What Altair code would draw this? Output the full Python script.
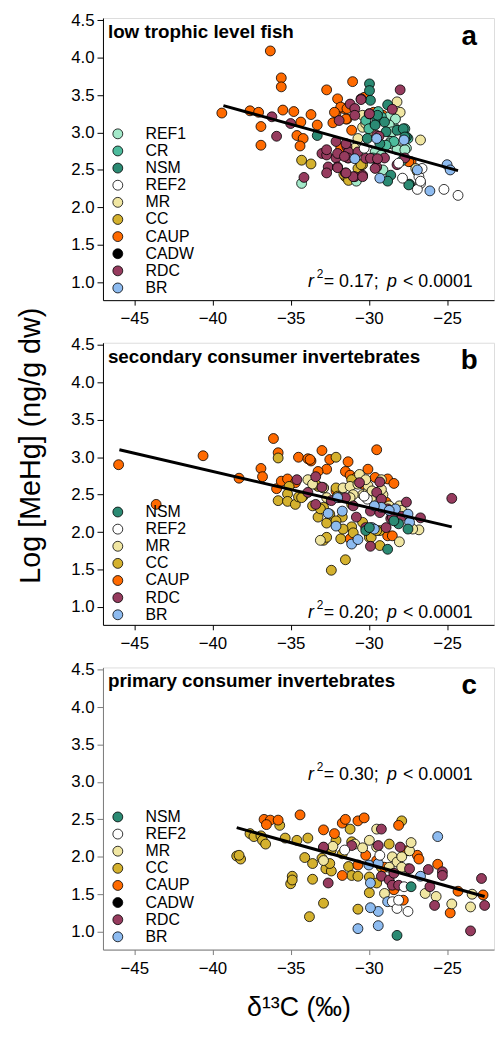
import altair as alt
import pandas as pd

FONT = "Liberation Sans"

GROUPS = ["REF1", "CR", "NSM", "REF2", "MR", "CC", "CAUP", "CADW", "RDC", "BR"]
COLORS = ["#a3e9c9", "#4dbb9c", "#2b8a73", "#ffffff", "#f0e6a2",
          "#d4b12e", "#ff6a00", "#000000", "#963b5e", "#8dbbf0"]

X_TICKS = [-45, -40, -35, -30, -25]
Y_TICKS = [1.0, 1.5, 2.0, 2.5, 3.0, 3.5, 4.0, 4.5]

# ---------------- panel a : low trophic level fish ----------------
a_caup_x = [-39.4, -36.3, -35.6, -35.6, -37.6, -37.05, -36.9, -36.9, -35.5, -34.8, -33.7, -34.35,
            -34.6, -34.2, -34.4, -33.3, -32.7, -32.0, -31.04, -32.1, -32.3, -31.6, -31.4, -31.1,
            -31.8, -30.3, -29.7, -29.1, -27.3, -31.8, -32.2, -31.46, -31.4, -27.45]
a_caup_y = [3.26, 4.09, 3.73, 3.61, 3.29, 3.27, 3.08, 2.83, 3.30, 3.28, 3.24, 3.14,
            2.96, 2.92, 2.82, 3.10, 3.57, 3.45, 3.68, 3.26, 3.13, 3.32, 3.18, 3.03,
            2.79, 3.47, 3.27, 3.23, 2.61, 3.34, 3.27, 3.18, 3.32, 2.61]
a_cc_x = [-34.3, -33.7, -31.5, -30.7, -30.4, -31.1, -26.9, -31.6, -30.5, -31.3]
a_cc_y = [2.63, 2.58, 2.41, 2.52, 2.57, 2.68, 2.48, 2.44, 2.57, 2.36]
a_mr_x = [-28.2, -28.0, -26.7, -30.4, -30.4, -30.7, -30.9, -27.0, -30.2, -29.8]
a_mr_y = [3.41, 3.27, 2.90, 3.23, 3.07, 2.92, 2.79, 2.52, 3.12, 2.98]
a_ref1_x = [-34.3, -30.8, -29.2, -29.1, -28.6, -28.3, -28.7, -27.6, -28.2, -29.6, -28.7, -28.7,
            -28.3, -28.7, -28.5, -28.7, -28.2, -27.7, -29.2]
a_ref1_y = [2.32, 2.35, 2.70, 2.50, 2.88, 3.05, 3.18, 2.79, 2.79, 2.74, 3.01, 3.21,
            3.18, 3.10, 3.01, 2.85, 2.77, 2.77, 2.70]
a_cr_x = [-29.2, -30.2, -28.4, -27.5, -27.7, -28.9, -29.75, -30.0, -29.4, -27.9]
a_cr_y = [3.21, 3.16, 2.88, 2.92, 3.05, 2.83, 2.66, 3.05, 3.28, 2.62]
a_nsm_x = [-29.96, -29.96, -29.9, -28.8, -33.3, -30.1, -29.5, -28.6, -28.8, -27.4, -27.6, -28.2,
           -29.3, -29.98, -29.45, -29.0, -29.6, -28.9, -27.8, -27.7, -27.45]
a_nsm_y = [3.65, 3.56, 3.43, 3.37, 2.96, 2.92, 3.18, 2.43, 2.35, 2.31, 2.94, 3.03,
           2.85, 3.25, 3.23, 3.14, 3.10, 3.01, 3.05, 2.94, 2.30]
a_rdc_x = [-36.2, -35.9, -35.0, -34.15, -33.0, -32.7, -32.6, -32.7, -32.1, -32.0, -31.4, -31.5,
           -31.3, -31.3, -30.9, -30.4, -29.5, -29.96, -30.5, -28.0, -28.5, -29.5, -29.0, -28.2,
           -27.7, -30.5, -31.2, -31.9, -30.9, -30.9, -32.1, -31.46, -31.35, -32.7, -32.0, -30.7,
           -30.2, -29.9, -29.6, -29.45, -29.35, -31.0, -30.4, -31.56, -32.0, -31.46]
a_rdc_y = [3.21, 2.95, 3.12, 2.40, 2.72, 2.70, 2.54, 2.46, 2.66, 2.54, 2.81, 2.46,
           2.66, 2.74, 2.41, 2.43, 2.96, 3.25, 3.45, 3.57, 3.31, 2.54, 2.66, 2.57,
           2.66, 3.44, 3.38, 3.16, 3.32, 3.23, 2.88, 2.85, 2.66, 2.77, 2.72, 2.74,
           2.655, 2.655, 2.52, 2.65, 2.95, 2.41, 2.41, 2.68, 2.53, 2.46]
a_ref2_x = [-30.3, -28.1, -27.85, -26.8, -26.7, -26.9, -25.2, -24.3, -26.6, -26.7]
a_ref2_y = [2.79, 2.59, 2.39, 2.41, 2.32, 2.24, 2.24, 2.16, 2.52, 2.35]
a_br_x = [-25.0, -24.8, -26.1, -29.3, -30.9, -27.75, -29.5, -26.9]
a_br_y = [2.57, 2.50, 2.22, 2.39, 2.65, 2.90, 2.92, 2.50]
a_line_x = [-39.3, -24.3]
a_line_y = [3.36, 2.49]

# ---------------- panel b : secondary consumer invertebrates ----------------
b_caup_x = [-46.0, -43.6, -40.6, -38.3, -36.9, -36.8, -36.1, -35.8, -35.9, -35.6, -35.2, -34.7,
            -34.5, -33.9, -33.7, -33.0, -29.5, -33.76, -32.5, -31.33, -32.7, -31.5, -31.2, -30.8,
            -30.06, -29.6, -28.8, -28.4, -29.3, -28.9, -28.8, -28.5, -31.2, -32.1, -30.4, -33.25]
b_caup_y = [2.90, 2.37, 3.02, 2.72, 2.85, 2.74, 3.25, 3.06, 2.58, 2.68, 2.71, 2.66,
            3.00, 2.98, 2.95, 3.09, 3.10, 2.97, 2.97, 2.94, 2.84, 2.81, 2.76, 2.73,
            2.84, 2.73, 2.71, 2.65, 2.55, 2.40, 1.95, 1.95, 1.91, 2.55, 2.64, 2.81]
b_cc_x = [-35.8, -35.1, -35.2, -35.8, -35.2, -34.7, -34.5, -34.2, -33.6, -33.25, -32.1, -31.1,
          -32.9, -32.9, -32.7, -31.7, -31.8, -31.1, -31.0, -31.5, -32.4, -32.1, -31.1, -30.4,
          -29.97, -29.3, -29.3, -32.0, -33.6, -33.25, -32.7, -34.3, -33.4, -32.9, -33.1, -32.5,
          -32.1, -31.65, -29.85, -29.5]
b_cc_y = [2.99, 2.61, 2.51, 2.42, 2.41, 2.37, 2.47, 2.48, 2.68, 2.61, 3.00, 2.70,
          2.33, 1.89, 1.93, 2.20, 1.91, 2.07, 1.99, 1.63, 1.49, 2.59, 2.37, 2.13,
          1.93, 1.82, 2.02, 2.48, 2.35, 2.20, 2.12, 2.46, 2.64, 2.59, 2.31, 2.24,
          2.15, 2.04, 1.93, 2.02]
b_mr_x = [-31.65, -31.2, -30.7, -30.2, -30.4, -30.06, -29.85, -31.0, -31.9, -28.05, -26.8, -28.05,
          -29.1, -30.6, -30.06, -27.2, -29.2, -30.2, -28.7, -27.9, -33.9, -33.6, -31.2, -29.8,
          -29.2, -32.9, -32.7, -33.1]
b_mr_y = [2.59, 2.61, 2.64, 2.68, 2.50, 2.53, 2.46, 2.50, 2.46, 1.87, 2.03, 2.35,
          2.50, 2.77, 2.62, 2.04, 2.70, 2.70, 2.35, 2.29, 2.70, 2.64, 2.46, 2.55,
          2.57, 2.59, 2.46, 1.89]
b_ref2_x = [-30.1, -30.3]
b_ref2_y = [2.44, 2.48]
b_rdc_x = [-34.6, -33.4, -33.0, -33.4, -33.9, -32.4, -31.5, -31.0, -30.6, -30.8, -29.9, -29.5,
           -29.3, -29.2, -29.3, -28.8, -28.6, -27.9, -27.6, -26.7, -24.7, -30.2, -29.9, -28.9,
           -28.5]
b_rdc_y = [2.70, 2.74, 2.60, 2.37, 2.53, 2.42, 2.46, 2.35, 2.66, 2.20, 2.28, 2.53,
           2.67, 2.44, 2.26, 2.31, 2.18, 2.21, 2.40, 2.19, 2.45, 2.06, 1.81, 2.06,
           2.20]
b_br_x = [-32.0, -32.6, -32.1, -31.7, -31.1, -30.7, -29.8, -29.65, -29.2, -28.3, -27.5, -27.4,
          -29.65, -28.7]
b_br_y = [2.46, 2.25, 2.08, 2.28, 1.84, 1.90, 2.06, 2.04, 2.33, 2.31, 2.24, 2.13,
          2.35, 2.29]
b_nsm_x = [-30.2, -28.8, -28.1, -27.5, -29.97, -28.4]
b_nsm_y = [2.02, 1.77, 2.11, 2.04, 2.06, 2.15]
b_line_x = [-45.95, -24.7]
b_line_y = [3.10, 2.07]

# ---------------- panel c : primary consumer invertebrates ----------------
c_cc_x = [-38.45, -38.2, -38.3, -37.6, -37.35, -36.9, -36.8, -36.6, -35.7, -35.35, -34.6, -34.9,
          -35.0, -34.9, -34.1, -33.9, -33.6, -33.6, -33.8, -32.9, -33.0, -32.75, -32.4, -32.5,
          -32.1, -31.2, -31.1, -31.3, -31.1, -30.7, -30.7, -29.97, -29.97, -29.5, -29.2, -28.7,
          -27.9, -32.4, -31.7]
c_cc_y = [2.01, 1.97, 2.02, 2.31, 2.27, 2.28, 2.22, 2.17, 2.42, 2.25, 2.22, 1.74,
          1.64, 1.69, 1.99, 2.25, 1.91, 1.70, 1.20, 1.38, 1.98, 1.84, 1.81, 1.91,
          2.22, 2.37, 2.20, 1.87, 1.75, 1.74, 1.30, 1.52, 1.73, 1.65, 1.86, 2.17,
          2.48, 2.09, 2.04]
c_caup_x = [-36.7, -36.3, -35.8, -36.55, -34.4, -32.9, -32.2, -31.7, -31.5, -30.7, -30.3, -31.7,
            -30.7, -30.2, -28.1, -26.9, -26.8, -25.6, -24.3, -24.8, -22.7, -29.0, -28.4, -29.5,
            -27.8, -27.6]
c_caup_y = [2.50, 2.49, 2.49, 2.43, 2.56, 2.36, 2.31, 2.45, 2.50, 2.48, 2.52, 1.75,
            1.89, 2.02, 2.42, 2.02, 1.97, 1.90, 1.54, 1.25, 1.49, 1.86, 1.56, 1.95,
            1.42, 2.08]
c_mr_x = [-32.9, -32.3, -30.9, -30.4, -29.97, -29.5, -28.5, -28.2, -27.9, -27.5, -27.4, -27.3,
          -27.9, -29.0, -26.4, -25.7, -24.7, -23.5, -23.4, -29.5, -28.7, -32.9]
c_mr_y = [2.12, 2.14, 2.17, 2.12, 2.22, 2.37, 2.00, 1.93, 2.00, 1.84, 2.08, 2.19,
          1.86, 1.51, 1.51, 1.47, 1.37, 1.33, 1.50, 2.13, 1.86, 1.95]
c_rdc_x = [-32.6, -32.9, -29.4, -29.2, -29.2, -28.7, -28.5, -28.1, -28.0, -28.4, -27.4, -26.2,
           -26.1, -25.8, -25.3, -25.3, -22.8, -22.6, -23.5, -31.1]
c_rdc_y = [1.65, 2.13, 2.15, 2.37, 1.74, 1.69, 1.62, 1.62, 2.13, 1.78, 1.84, 1.83,
           1.60, 1.35, 1.80, 1.75, 1.71, 1.35, 1.01, 2.15]
c_br_x = [-30.7, -29.4, -29.4, -29.9, -29.9, -30.0, -28.8, -26.7, -25.6, -29.4]
c_br_y = [1.04, 1.08, 1.27, 1.32, 1.65, 1.89, 1.40, 1.74, 2.27, 1.91]
c_ref2_x = [-31.55, -28.5, -28.2, -27.5, -27.75, -29.3, -28.1]
c_ref2_y = [2.09, 1.40, 1.31, 1.27, 1.60, 2.02, 1.42]
c_nsm_x = [-28.2, -27.3]
c_nsm_y = [0.95, 1.60]
c_line_x = [-38.45, -22.6]
c_line_y = [2.39, 1.47]

LEG_A = ["REF1", "CR", "NSM", "REF2", "MR", "CC", "CAUP", "CADW", "RDC", "BR"]
LEG_B = ["NSM", "REF2", "MR", "CC", "CAUP", "RDC", "BR"]
LEG_C = ["NSM", "REF2", "MR", "CC", "CAUP", "CADW", "RDC", "BR"]


def frame(series):
    rows = []
    for name, xs, ys in series:
        for xv, yv in zip(xs, ys):
            rows.append({"x": xv, "y": yv, "group": name})
    return pd.DataFrame(rows)


def one(text, x, y, size, weight="normal", style="normal", align="left", angle=0):
    return alt.Chart(pd.DataFrame({"t": [text]})).mark_text(
        font=FONT, fontSize=size, fontWeight=weight, fontStyle=style,
        align=align, baseline="alphabetic", color="black", angle=angle
    ).encode(x=alt.value(x), y=alt.value(y), text="t:N")


def panel(series, legend_groups, lx, ly, title, letter, r2, legend_y, stat_y, ytitle, xtitle, dom_color):
    df = frame(series)
    cols = [COLORS[GROUPS.index(g)] for g in legend_groups]
    yaxis = alt.Axis(values=Y_TICKS, format=".1f", tickSize=6, labelFontSize=17, labelFont=FONT,
                     labelPadding=3, grid=False, domainColor=dom_color, tickColor=dom_color,
                     labelColor="black", title=None)
    if xtitle:
        xaxis = alt.Axis(values=X_TICKS, tickSize=5, labelFontSize=17, labelFont=FONT, labelPadding=6,
                         grid=False, domainColor=dom_color, tickColor=dom_color, labelColor="black",
                         title="δ¹³C (‰)", titleFont=FONT, titleFontSize=27,
                         titleFontWeight="normal", titlePadding=19, titleColor="black")
    else:
        xaxis = alt.Axis(values=X_TICKS, tickSize=5, labelFontSize=17, labelFont=FONT, labelPadding=6,
                         grid=False, domainColor=dom_color, tickColor=dom_color, labelColor="black",
                         title=None)
    pts = alt.Chart(df).mark_circle(size=100, opacity=1, stroke="black", strokeWidth=0.8).encode(
        x=alt.X("x:Q", scale=alt.Scale(domain=[-47, -22], nice=False, zero=False), axis=xaxis),
        y=alt.Y("y:Q", scale=alt.Scale(domain=[0.76, 4.53], nice=False, zero=False), axis=yaxis),
        color=alt.Color("group:N", scale=alt.Scale(domain=legend_groups, range=cols),
                        legend=alt.Legend(title=None, orient="none", legendX=7, legendY=legend_y,
                                          symbolType="circle", symbolSize=100,
                                          symbolStrokeColor="black", symbolStrokeWidth=0.8,
                                          symbolOpacity=1, labelFont=FONT, labelFontSize=16,
                                          labelColor="black", labelOffset=20, rowPadding=1.3,
                                          padding=0)),
    )
    line = alt.Chart(pd.DataFrame({"x": lx, "y": ly})).mark_line(color="black", strokeWidth=3).encode(
        x="x:Q", y="y:Q")
    texts = [
        one(title, 5, 20, 19, weight="bold"),
        one(letter, 370, 27, 28, weight="bold", align="center"),
        one("r", 207, stat_y, 18, style="italic"),
        one("2", 216, stat_y - 9, 12),
        one("= " + r2 + ";", 223, stat_y, 18),
        one("p", 287, stat_y, 18, style="italic"),
        one("< 0.0001", 303, stat_y, 18),
    ]
    if ytitle:
        texts.append(one("Log [MeHg] (ng/g dw)", -64, 104, 29, align="center", angle=270))
    return alt.layer(pts, line, *texts).properties(width=395, height=285)


pa = panel([("CAUP", a_caup_x, a_caup_y), ("CC", a_cc_x, a_cc_y), ("MR", a_mr_x, a_mr_y),
            ("REF1", a_ref1_x, a_ref1_y), ("CR", a_cr_x, a_cr_y), ("NSM", a_nsm_x, a_nsm_y),
            ("RDC", a_rdc_x, a_rdc_y), ("REF2", a_ref2_x, a_ref2_y), ("BR", a_br_x, a_br_y)],
           LEG_A, a_line_x, a_line_y, "low trophic level fish", "a", "0.17", 109, 272,
           False, False, "black")
pb = panel([("CAUP", b_caup_x, b_caup_y), ("CC", b_cc_x, b_cc_y), ("MR", b_mr_x, b_mr_y),
            ("REF2", b_ref2_x, b_ref2_y), ("RDC", b_rdc_x, b_rdc_y), ("BR", b_br_x, b_br_y),
            ("NSM", b_nsm_x, b_nsm_y)],
           LEG_B, b_line_x, b_line_y, "secondary consumer invertebrates", "b", "0.20", 163, 278,
           True, False, "black")
pc = panel([("CC", c_cc_x, c_cc_y), ("CAUP", c_caup_x, c_caup_y), ("MR", c_mr_x, c_mr_y),
            ("RDC", c_rdc_x, c_rdc_y), ("BR", c_br_x, c_br_y), ("REF2", c_ref2_x, c_ref2_y),
            ("NSM", c_nsm_x, c_nsm_y)],
           LEG_C, c_line_x, c_line_y, "primary consumer invertebrates", "c", "0.30", 143, 114,
           False, True, "#7a7a7a")

chart = alt.vconcat(pa, pb, pc, spacing=43, bounds="flush").resolve_scale(color="independent").properties(
    padding={"left": 16, "top": 5, "right": 0, "bottom": 0}
).configure_view(stroke=None).configure(background="white")

chart.save("out.html", embed_options={"renderer": "svg", "actions": False})
